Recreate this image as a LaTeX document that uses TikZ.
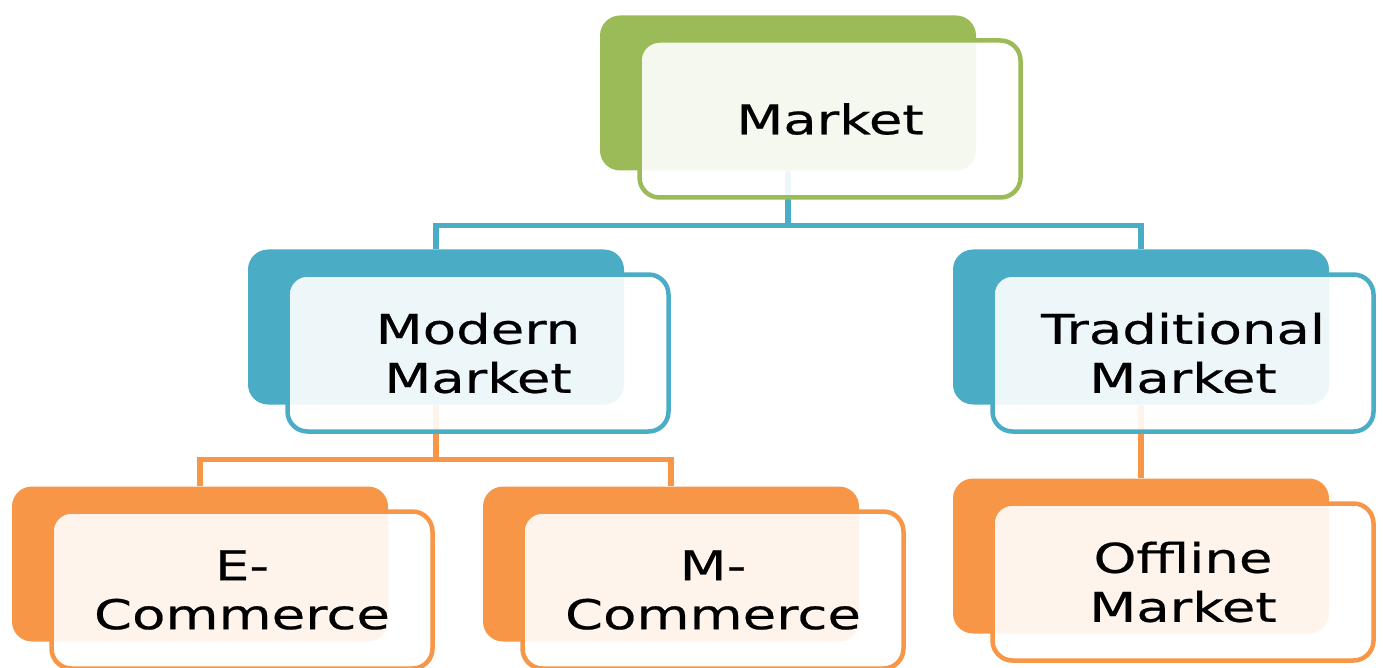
\documentclass[tikz,border=0pt]{standalone}
\usepackage{fontspec}
\newfontfamily\boxfont[FakeStretch=1.33,FakeBold=0.5]{DejaVu Sans}
\definecolor{mkgreen}{HTML}{9BBB59}
\definecolor{mkblue}{HTML}{4BACC6}
\definecolor{mkorange}{HTML}{F79646}
\begin{document}
\begin{tikzpicture}[x=1pt,y=-1pt,
    back/.style={rounded corners=20pt, minimum width=376pt, minimum height=155pt, fill=#1},
    front/.style={rounded corners=20pt, minimum width=381pt, minimum height=157pt,
        draw=#1, line width=4.5pt, fill=white, fill opacity=0.9, text opacity=1,
        align=center, font=\boxfont\fontsize{41}{49}\selectfont},
    link/.style={draw=#1, line width=5.5pt}]
    \useasboundingbox (0,0) rectangle (1383,668);

    % coloured back tiles
    \node[back=mkgreen] (market-bg) at (788,93) {};
    \node[back=mkblue] (modern-bg) at (436,327) {};
    \node[back=mkblue] (trad-bg) at (1141,327) {};
    \node[back=mkorange] (ecom-bg) at (200,564) {};
    \node[back=mkorange] (mcom-bg) at (671,564) {};
    \node[back=mkorange] (offline-bg) at (1141,556) {};

    % connectors
    \draw[link=mkblue] (market-bg.south) -- ++(0,55) -| (modern-bg.north);
    \draw[link=mkblue] (market-bg.south) -- ++(0,55) -| (trad-bg.north);
    \draw[link=mkorange] (modern-bg.south) -- ++(0,55) -| (ecom-bg.north);
    \draw[link=mkorange] (modern-bg.south) -- ++(0,55) -| (mcom-bg.north);
    \draw[link=mkorange] (trad-bg.south) -- (offline-bg.north);

    % text boxes
    \node[front=mkgreen] (market) at ([shift={(42,26)}]market-bg.center) {Market};
    \node[front=mkblue] (modern) at ([shift={(42,26)}]modern-bg.center) {Modern\\Market};
    \node[front=mkblue] (trad) at ([shift={(42,26)}]trad-bg.center) {Traditional\\Market};
    \node[front=mkorange] (ecom) at ([shift={(42,26)}]ecom-bg.center) {E-\\Commerce};
    \node[front=mkorange] (mcom) at ([shift={(42,26)}]mcom-bg.center) {M-\\Commerce};
    \node[front=mkorange] (offline) at ([shift={(42,26)}]offline-bg.center) {Offline\\Market};
\end{tikzpicture}
\end{document}
